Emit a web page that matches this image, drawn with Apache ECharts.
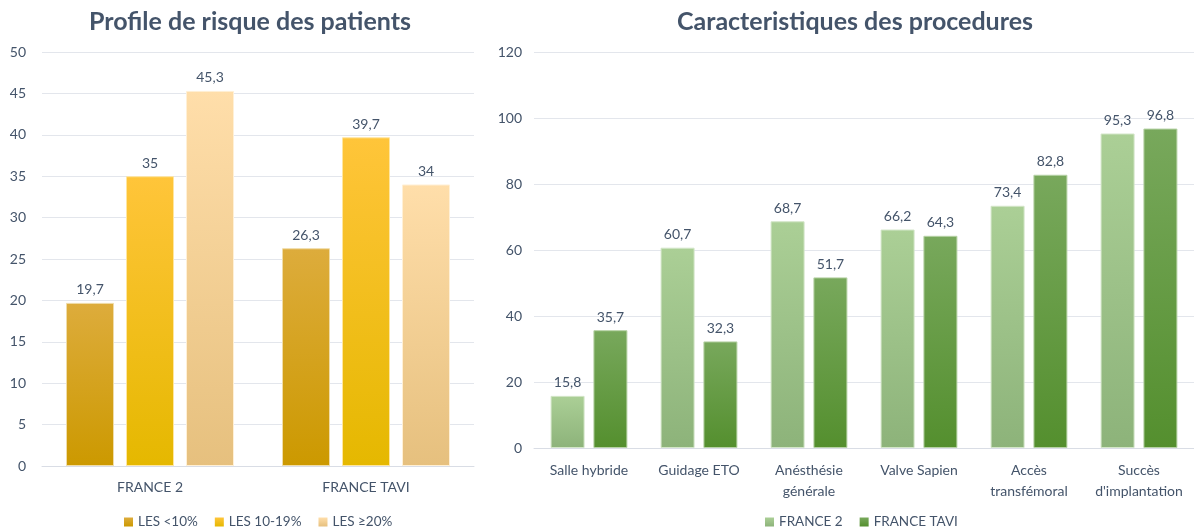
<!DOCTYPE html>
<html>
<head>
<meta charset="utf-8">
<script src="https://cdn.jsdelivr.net/npm/echarts@6/dist/echarts.min.js"></script>
<style>
  html, body { margin: 0; padding: 0; background: #fff; }
  #main { width: 1194px; height: 528px; }
</style>
</head>
<body>
<div id="main"></div>
<script>
// left chart: profil de risque
var riskCategories = ['FRANCE 2', 'FRANCE TAVI']
var lesLow = [19.7, 26.3]
var lesMid = [35, 39.7]
var lesHigh = [45.3, 34]

// right chart: procedures
var procCategories = ['Salle hybride', 'Guidage ETO', 'Anésthésie\ngénérale', 'Valve Sapien', 'Accès\ntransfémoral', 'Succès\nd\'implantation']
var france2 = [15.8, 60.7, 68.7, 66.2, 73.4, 95.3]
var franceTavi = [35.7, 32.3, 51.7, 64.3, 82.8, 96.8]

var textColor = '#44546a'
var font = 'Lato, "Open Sans", sans-serif'

function grad (top, bottom) {
  return new echarts.graphic.LinearGradient(0, 0, 0, 1, [
    { offset: 0, color: top },
    { offset: 1, color: bottom }
  ])
}

function fmt (v) {
  return String(v).replace('.', ',')
}

var labelStyle = {
  show: true,
  position: 'top',
  distance: 6,
  color: textColor,
  fontSize: 14,
  fontFamily: font,
  formatter: function (p) { return fmt(p.value) }
}

var chart = echarts.init(document.getElementById('main'))
chart.setOption({
  animation: false,
  textStyle: { fontFamily: font },
  title: [
    {
      text: 'Profile de risque des patients',
      left: 245, top: 4, textAlign: 'center',
      textStyle: { fontSize: 25, fontWeight: 'bold', color: textColor, fontFamily: font }
    },
    {
      text: 'Caracteristiques des procedures',
      left: 850, top: 4, textAlign: 'center',
      textStyle: { fontSize: 25, fontWeight: 'bold', color: textColor, fontFamily: font }
    }
  ],
  legend: [
    {
      data: ['LES <10%', 'LES 10-19%', 'LES ≥20%'],
      left: 119, top: 510,
      itemWidth: 9, itemHeight: 9, itemGap: 17,
      icon: 'rect',
      itemStyle: { borderWidth: 0 },
      textStyle: { color: textColor, fontSize: 13.5, fontFamily: font }
    },
    {
      data: ['FRANCE 2', 'FRANCE TAVI'],
      left: 760, top: 510,
      itemWidth: 9, itemHeight: 9, itemGap: 17,
      icon: 'rect',
      itemStyle: { borderWidth: 0 },
      textStyle: { color: textColor, fontSize: 13.5, fontFamily: font }
    }
  ],
  grid: [
    { left: 42, top: 52, width: 432, height: 414 },
    { left: 534, top: 52, width: 663, height: 396 }
  ],
  xAxis: [
    {
      type: 'category', gridIndex: 0, data: riskCategories,
      axisTick: { show: false },
      axisLine: { lineStyle: { color: '#d9dde5' } },
      axisLabel: { color: textColor, fontSize: 14, margin: 14, fontFamily: font }
    },
    {
      type: 'category', gridIndex: 1, data: procCategories,
      axisTick: { show: false },
      axisLine: { lineStyle: { color: '#d9dde5' } },
      axisLabel: { color: textColor, fontSize: 14, margin: 12, lineHeight: 21, fontFamily: font, interval: 0 }
    }
  ],
  yAxis: [
    {
      type: 'value', gridIndex: 0, min: 0, max: 50, interval: 5,
      axisLabel: { color: textColor, fontSize: 14, margin: 16, fontFamily: font },
      splitLine: { lineStyle: { color: '#e3e6ec' } }
    },
    {
      type: 'value', gridIndex: 1, min: 0, max: 120, interval: 20,
      axisLabel: { color: textColor, fontSize: 14, margin: 12, fontFamily: font },
      splitLine: { lineStyle: { color: '#e3e6ec' } }
    }
  ],
  series: [
    {
      name: 'LES <10%', type: 'bar', xAxisIndex: 0, yAxisIndex: 0,
      data: lesLow, barWidth: 48, barGap: '25%',
      itemStyle: { color: grad('#ddac3c', '#cc9900'), borderColor: '#f0dca8', borderWidth: 1 },
      label: labelStyle
    },
    {
      name: 'LES 10-19%', type: 'bar', xAxisIndex: 0, yAxisIndex: 0,
      data: lesMid, barWidth: 48, barGap: '25%',
      itemStyle: { color: grad('#ffc53a', '#e5b800'), borderColor: '#ffe6a0', borderWidth: 1 },
      label: labelStyle
    },
    {
      name: 'LES ≥20%', type: 'bar', xAxisIndex: 0, yAxisIndex: 0,
      data: lesHigh, barWidth: 48, barGap: '25%',
      itemStyle: { color: grad('#ffdeaa', '#e6c07e'), borderColor: '#fff0d6', borderWidth: 1 },
      label: labelStyle
    },
    {
      name: 'FRANCE 2', type: 'bar', xAxisIndex: 1, yAxisIndex: 1,
      data: france2, barWidth: 34, barGap: '26%',
      itemStyle: { color: grad('#abcf96', '#8db37a'), borderColor: '#d3e6c8', borderWidth: 1 },
      label: labelStyle
    },
    {
      name: 'FRANCE TAVI', type: 'bar', xAxisIndex: 1, yAxisIndex: 1,
      data: franceTavi, barWidth: 34, barGap: '26%',
      itemStyle: { color: grad('#78a85c', '#548f2e'), borderColor: '#b7d2a6', borderWidth: 1 },
      label: labelStyle
    }
  ]
})
</script>
</body>
</html>
